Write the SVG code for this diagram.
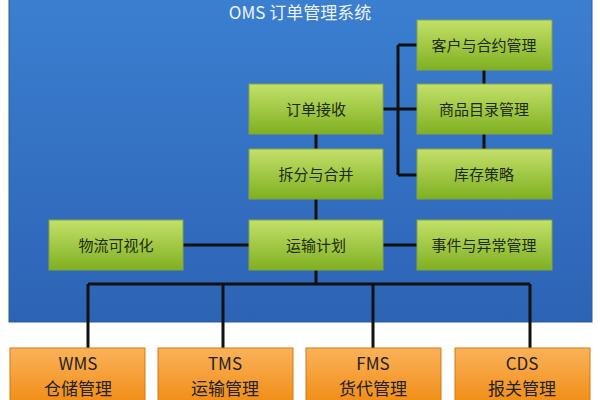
<svg xmlns="http://www.w3.org/2000/svg" width="600" height="400" viewBox="0 0 600 400">
<defs>
<linearGradient id="g" x1="0" y1="0" x2="0" y2="1"><stop offset="0" stop-color="#c4e06a"/><stop offset="1" stop-color="#7fb021"/></linearGradient>
<linearGradient id="o" x1="0" y1="0" x2="0" y2="1"><stop offset="0" stop-color="#fbb25a"/><stop offset="1" stop-color="#f08a10"/></linearGradient>
<linearGradient id="b" x1="0" y1="0" x2="0" y2="1"><stop offset="0" stop-color="#3b7fd0"/><stop offset="1" stop-color="#2d63b5"/></linearGradient>
</defs>
<style>
.gb{fill:url(#g);stroke:#86a63a;stroke-width:1}
.ob{fill:url(#o);stroke:#d07a10;stroke-width:1}
.t{font-family:"Noto Sans CJK SC",sans-serif;font-size:15px;fill:#1e2a10;text-anchor:middle}
.ot{font-family:"Noto Sans CJK SC",sans-serif;font-size:17px;fill:#222;text-anchor:middle}
.c{stroke:#111;stroke-width:3;fill:none}
</style>
<rect x="9" y="-2" width="583" height="324" fill="url(#b)" stroke="#2a5aa0"/>
<text x="300" y="19" font-family="'Noto Sans CJK SC',sans-serif" font-size="17" fill="#eef4ff" text-anchor="middle">OMS 订单管理系统</text>
<g id="connectors" class="c">
<path d="M383 109H398M398 45V175M398 45H417M398 109H417M398 175H417"/>
<path d="M484 70V84M484 134V149"/>
<path d="M316 134V149M316 199V220M316 270V284"/>
<path d="M183 245H249M383 245H417"/>
<path d="M88 284H530M88 284V348M223 284V348M373 284V348M530 284V348"/>
</g>
<g id="n1"><rect class="gb" x="417" y="20" width="135" height="50"/><text class="t" x="484" y="51">客户与合约管理</text></g>
<g id="n2"><rect class="gb" x="417" y="84" width="135" height="50"/><text class="t" x="484" y="115">商品目录管理</text></g>
<g id="n3"><rect class="gb" x="417" y="149" width="135" height="50"/><text class="t" x="484" y="180">库存策略</text></g>
<g id="n4"><rect class="gb" x="249" y="84" width="134" height="50"/><text class="t" x="316" y="115">订单接收</text></g>
<g id="n5"><rect class="gb" x="249" y="149" width="134" height="50"/><text class="t" x="316" y="180">拆分与合并</text></g>
<g id="n6"><rect class="gb" x="49" y="220" width="134" height="50"/><text class="t" x="116" y="251">物流可视化</text></g>
<g id="n7"><rect class="gb" x="249" y="220" width="134" height="50"/><text class="t" x="316" y="251">运输计划</text></g>
<g id="n8"><rect class="gb" x="417" y="220" width="135" height="50"/><text class="t" x="484" y="251">事件与异常管理</text></g>
<g id="wms"><rect class="ob" x="10" y="348" width="135" height="60"/><text class="ot" x="78" y="370">WMS</text><text class="ot" x="78" y="395">仓储管理</text></g>
<g id="tms"><rect class="ob" x="158" y="348" width="135" height="60"/><text class="ot" x="225" y="370">TMS</text><text class="ot" x="225" y="395">运输管理</text></g>
<g id="fms"><rect class="ob" x="306" y="348" width="135" height="60"/><text class="ot" x="373" y="370">FMS</text><text class="ot" x="373" y="395">货代管理</text></g>
<g id="cds"><rect class="ob" x="455" y="348" width="135" height="60"/><text class="ot" x="522" y="370">CDS</text><text class="ot" x="522" y="395">报关管理</text></g>
</svg>
